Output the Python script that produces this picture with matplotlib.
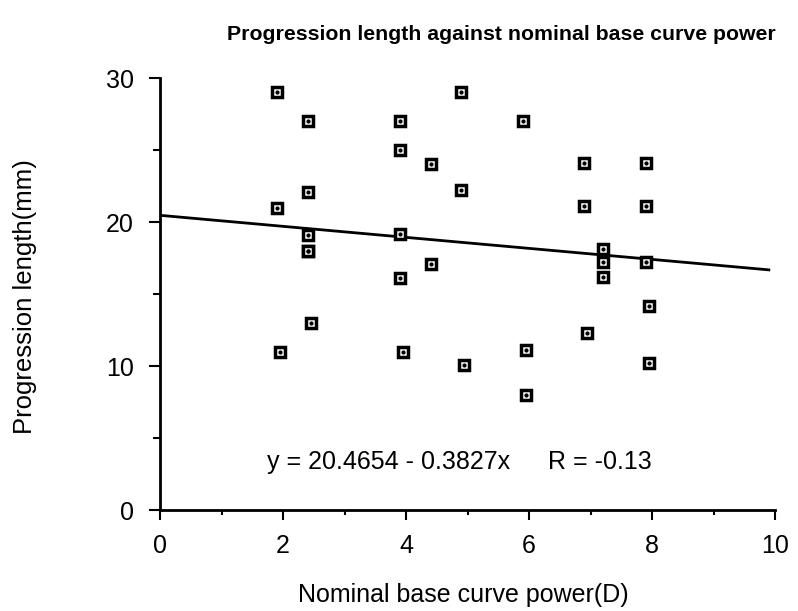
import matplotlib
matplotlib.use("Agg")
import matplotlib.pyplot as plt
import numpy as np

plt.rcParams['font.family'] = ['Liberation Sans', 'DejaVu Sans']

# Nominal base curve power (D) and progression length (mm)
base_curve = [1.9, 1.9, 1.95, 2.4, 2.4, 2.4, 2.4, 2.4, 2.45,
              3.9, 3.9, 3.9, 3.9, 3.95, 4.4, 4.4,
              4.9, 4.9, 4.95, 5.9, 5.95, 5.95,
              6.9, 6.9, 6.95, 7.2, 7.2, 7.2,
              7.9, 7.9, 7.9, 7.95, 7.95]
prog_length = [29.0, 21.0, 11.0, 27.0, 22.1, 19.1, 18.0, 18.0, 13.0,
               27.0, 25.0, 19.2, 16.1, 11.0, 24.0, 17.1,
               29.0, 22.2, 10.1, 27.0, 11.1, 8.0,
               24.1, 21.1, 12.3, 18.1, 17.2, 16.2,
               24.1, 21.1, 17.2, 14.2, 10.2]

intercept = 20.4654
slope = -0.3827
r_value = -0.13

x_ticks = [0, 2, 4, 6, 8, 10]
y_ticks = [0, 10, 20, 30]

fig = plt.figure(figsize=(7.98, 6.11), dpi=100)
ax = fig.add_axes([0.2005, 0.1653, 0.7707, 0.7070])

# regression line
xl = np.array([0.0, 9.9])
ax.plot(xl, intercept + slope * xl, color='black', lw=2.0, zorder=2)

# square markers with a centre dot
ax.plot(base_curve, prog_length, linestyle='none', marker='s', markersize=7.4,
        markerfacecolor='white', markeredgecolor='black', markeredgewidth=2.5,
        zorder=3)
ax.plot(base_curve, prog_length, linestyle='none', marker='o', markersize=2,
        color='black', zorder=4)

ax.set_xlim(0, 10)
ax.set_ylim(0, 30)
ax.spines['top'].set_visible(False)
ax.spines['right'].set_visible(False)
ax.spines['left'].set_linewidth(2.0)
ax.spines['bottom'].set_linewidth(2.0)

ax.set_xticks(x_ticks)
ax.set_xticklabels([str(v) for v in x_ticks])
ax.set_xticks(np.arange(1, 10, 2), minor=True)
ax.set_yticks(y_ticks)
ax.set_yticklabels([str(v) for v in y_ticks])
ax.set_yticks([5, 15, 25], minor=True)
ax.tick_params(axis='x', which='major', direction='out', length=7, width=1.5,
               labelsize=18, pad=10)
ax.tick_params(axis='x', which='minor', direction='out', length=3.5, width=1.5)
ax.tick_params(axis='y', which='major', direction='out', length=8, width=1.5,
               labelsize=18, pad=11)
ax.tick_params(axis='y', which='minor', direction='out', length=5, width=1.5)

ax.text(1.74, 2.85, f"y = {intercept:.4f} - {abs(slope):.4f}x",
        fontsize=18, ha='left', va='baseline')
ax.text(6.31, 2.85, f"R = {r_value:.2f}",
        fontsize=18, ha='left', va='baseline')

fig.text(501 / 798, 1 - 35 / 611, "Progression length against nominal base curve power",
         fontsize=15.3, fontweight='bold', ha='center', va='center')
fig.text(0.581, 1 - 595 / 611, "Nominal base curve power(D)", fontsize=18,
         ha='center', va='center')
fig.text(25 / 798, 1 - 297 / 611, "Progression length(mm)", fontsize=18.5,
         rotation=90, ha='center', va='center')

fig.savefig("out.png", dpi=100)
